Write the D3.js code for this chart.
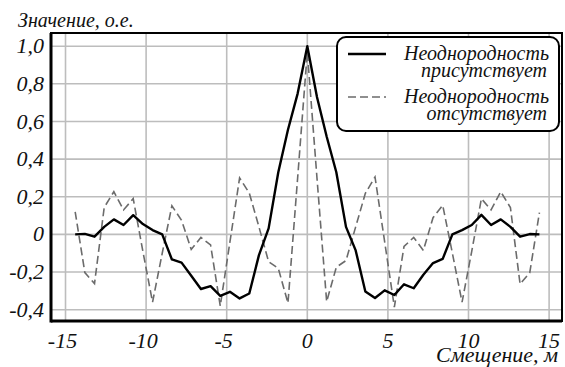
<!DOCTYPE html>
<html><head><meta charset="utf-8"><script src="https://cdn.jsdelivr.net/npm/d3@7"></script></head>
<body style="margin:0">
<svg width="565" height="367"></svg>
<script>
// offsets, m
const offsets = [-14.4, -13.8, -13.2, -12.6, -12.0, -11.4, -10.8, -10.2, -9.6, -9.0,
  -8.4, -7.8, -7.2, -6.6, -6.0, -5.4, -4.8, -4.2, -3.6, -3.0,
  -2.4, -1.8, -1.2, -0.6, 0, 0.6, 1.2, 1.8, 2.4, 3.0,
  3.6, 4.2, 4.8, 5.4, 6.0, 6.6, 7.2, 7.8, 8.4, 9.0,
  9.6, 10.2, 10.8, 11.4, 12.0, 12.6, 13.2, 13.8, 14.4];

// "Неоднородность присутствует"
const present = [0, 0.003, -0.012, 0.04, 0.08, 0.05, 0.102, 0.055, 0.023, 0.0,
  -0.133, -0.15, -0.22, -0.29, -0.275, -0.326, -0.305, -0.34, -0.314, -0.11,
  0.032, 0.33, 0.556, 0.748, 1.0, 0.73, 0.52, 0.33, 0.04, -0.085,
  -0.303, -0.338, -0.297, -0.322, -0.265, -0.286, -0.214, -0.152, -0.13, 0.0,
  0.023, 0.05, 0.104, 0.05, 0.08, 0.04, -0.012, 0.002, 0];

// "Неоднородность отсутствует"
const absent = [0.12, -0.203, -0.261, 0.143, 0.227, 0.13, 0.19, -0.09, -0.36, -0.10,
  0.152, 0.075, -0.08, -0.016, -0.056, -0.38, -0.04, 0.3, 0.22, 0.04,
  -0.145, -0.18, -0.365, 0.3, 0.97, 0.3, -0.357, -0.174, -0.139, 0.04,
  0.218, 0.305, -0.04, -0.386, -0.064, -0.016, -0.085, 0.089, 0.155, -0.10,
  -0.36, -0.09, 0.19, 0.13, 0.227, 0.143, -0.264, -0.203, 0.116];

const xTicks = [-15, -10, -5, 0, 5, 10, 15];
const xLabels = ["-15", "-10", "-5", "0", "5", "10", "15"];
const yTicks = [-0.4, -0.2, 0, 0.2, 0.4, 0.6, 0.8, 1.0];
const yLabels = ["-0,4", "-0,2", "0", "0,2", "0,4", "0,6", "0,8", "1,0"];

const FONT = "Times New Roman";

let svg = d3.select("svg");

// warm up serif fonts (the first requests sometimes come back as sans)
let warm = svg.append("g").attr("transform", "translate(-2000,-2000)");
["Liberation Serif", "DejaVu Serif", "Times New Roman", "serif"].forEach(f => {
  warm.append("text").attr("font-family", f).attr("font-style", "italic")
    .attr("font-size", 20).text("Смещение 1,0 -15");
});

const pl = 51, pr = 562, pt = 33, pb = 321;

let x = d3.scaleLinear().domain([-15.9, 15.8]).range([pl, pr]);
let y = d3.scaleLinear().domain([-0.46, 1.07]).range([pb, pt]);

// grid
let grid = svg.append("g").attr("stroke", "#bdbdbd").attr("stroke-width", 1.6);
grid.selectAll("line.v").data(xTicks).enter().append("line")
  .attr("x1", d => x(d)).attr("x2", d => x(d))
  .attr("y1", pt).attr("y2", pb);
grid.selectAll("line.h").data(yTicks).enter().append("line")
  .attr("x1", pl).attr("x2", pr)
  .attr("y1", d => y(d)).attr("y2", d => y(d));

// tick labels placed by the scales
svg.append("g").selectAll("text").data(xTicks).enter().append("text")
  .attr("class", "lbl")
  .attr("x", d => x(d) - (d < 0 ? 3 : 0)).attr("y", 348)
  .attr("text-anchor", "middle").attr("font-size", 22)
  .text((d, i) => xLabels[i]);

svg.append("g").selectAll("text").data(yTicks).enter().append("text")
  .attr("class", "lbl")
  .attr("x", pl - 7).attr("y", d => y(d)).attr("dy", "0.32em")
  .attr("text-anchor", "end").attr("font-size", 22)
  .text((d, i) => yLabels[i]);

// lines
let line = d3.line().x((d, i) => x(offsets[i])).y(d => y(d));

svg.append("path").datum(absent)
  .attr("d", line).attr("fill", "none")
  .attr("stroke", "#6b6b6b").attr("stroke-width", 1.6)
  .attr("stroke-dasharray", "8,4");

svg.append("path").datum(present)
  .attr("d", line).attr("fill", "none")
  .attr("stroke", "#000").attr("stroke-width", 2.4)
  .attr("stroke-linejoin", "round");

// frame
svg.append("rect")
  .attr("x", pl).attr("y", pt)
  .attr("width", pr - pl).attr("height", pb - pt)
  .attr("fill", "none").attr("stroke", "#000").attr("stroke-width", 2);
svg.append("line").attr("x1", pl).attr("x2", pl).attr("y1", pt).attr("y2", pb + 1.5)
  .attr("stroke", "#000").attr("stroke-width", 3);
svg.append("line").attr("x1", pl).attr("x2", pr).attr("y1", pb).attr("y2", pb)
  .attr("stroke", "#000").attr("stroke-width", 3);

// legend
let lg = svg.append("g");
lg.append("rect")
  .attr("x", 337).attr("y", 37).attr("width", 222).attr("height", 94)
  .attr("rx", 9).attr("fill", "#fff").attr("stroke", "#000").attr("stroke-width", 2);
lg.append("line").attr("x1", 348).attr("x2", 386).attr("y1", 54).attr("y2", 54)
  .attr("stroke", "#000").attr("stroke-width", 2.4);
lg.append("line").attr("x1", 348).attr("x2", 386).attr("y1", 97).attr("y2", 97)
  .attr("stroke", "#6b6b6b").attr("stroke-width", 1.6).attr("stroke-dasharray", "8,4");
const legendText = [
  ["Неоднородность", 60], ["присутствует", 77],
  ["Неоднородность", 103], ["отсутствует", 120]
];
lg.selectAll("text.leg").data(legendText).enter().append("text")
  .attr("class", "lbl")
  .attr("x", (d, i) => i % 2 ? 547 : 549).attr("y", d => d[1])
  .attr("text-anchor", "end").attr("font-size", 20)
  .text(d => d[0]);

// axis titles
svg.append("text").attr("class", "lbl").attr("x", 18).attr("y", 27)
  .attr("font-size", 20).text("Значение, о.е.");
svg.append("text").attr("class", "lbl").attr("x", 436).attr("y", 362)
  .attr("font-size", 22).text("Смещение, м");

function applyFont() {
  svg.selectAll("text.lbl")
    .attr("font-family", FONT).attr("font-style", "italic").attr("fill", "#111");
}
applyFont();
// re-apply once fonts are settled, then drop the warm-up texts
setTimeout(() => {
  svg.selectAll("text.lbl").attr("font-family", null);
  applyFont();
  warm.remove();
}, 150);
</script>
</body>
</html>
